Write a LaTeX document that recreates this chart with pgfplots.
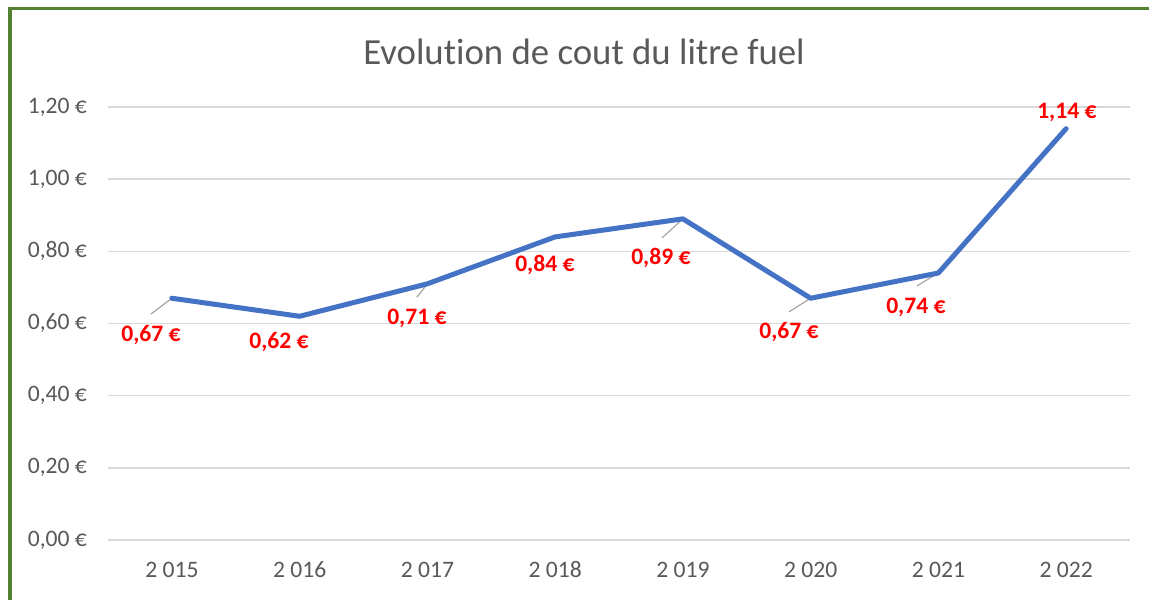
\documentclass[border=0pt]{standalone}
\usepackage{pgfplots}
\pgfplotsset{compat=1.18}
\usepackage{fontspec}
\setmainfont{Carlito}[Ligatures={NoCommon}]
\definecolor{lineblue}{HTML}{4472C4}
\definecolor{gridgray}{HTML}{D9D9D9}
\definecolor{txtgray}{HTML}{595959}
\definecolor{leadgray}{HTML}{A6A6A6}
\definecolor{labred}{HTML}{FF0000}
\definecolor{framegreen}{HTML}{548235}
\begin{document}
\begin{tikzpicture}
\useasboundingbox (0,0) rectangle (574.5pt,300pt);
\draw[framegreen, line width=1.7pt] (5pt,0) -- (5pt,295.8pt) -- (574.5pt,295.8pt);
\node[text=txtgray, font=\fontsize{18.4}{22}\selectfont] at (292pt,274pt) {Evolution de cout du litre fuel};
\begin{axis}[
  at={(54pt,30pt)}, anchor=south west, scale only axis,
  width=511pt, height=216.5pt,
  xmin=-0.5, xmax=7.5, ymin=0, ymax=1.2,
  xtick={0,1,2,3,4,5,6,7},
  xticklabels={2 015,2 016,2 017,2 018,2 019,2 020,2 021,2 022},
  ytick={0,0.2,0.4,0.6,0.8,1.0,1.2},
  yticklabels={{0,00 €},{0,20 €},{0,40 €},{0,60 €},{0,80 €},{1,00 €},{1,20 €}},
  axis line style={draw=none}, major tick length=0pt,
  ymajorgrids, grid style={color=gridgray, line width=0.75pt},
  tick label style={font=\fontsize{11.8}{14}\selectfont, text=txtgray},
  yticklabel style={xshift=-7pt},
  xticklabel style={yshift=-7.5pt, text height=7.6pt, text depth=0pt},
  clip=false,
]
% leader lines
\addplot[leadgray, line width=0.6pt] coordinates {(-0.164,0.626) (0,0.67)};
\addplot[leadgray, line width=0.6pt] coordinates {(1.918,0.673) (2,0.71)};
\addplot[leadgray, line width=0.6pt] coordinates {(3.836,0.837) (4,0.89)};
\addplot[leadgray, line width=0.6pt] coordinates {(4.83,0.632) (5,0.67)};
\addplot[leadgray, line width=0.6pt] coordinates {(5.832,0.704) (6,0.74)};
% series
\addplot[lineblue, line width=2.5pt, line join=round, line cap=round] coordinates {
  (0,0.67) (1,0.62) (2,0.71) (3,0.84) (4,0.89) (5,0.67) (6,0.74) (7,1.14)};
% data labels
\addplot[only marks, mark=*, mark size=0pt, mark options={draw=none, fill=none},
  nodes near coords, point meta=explicit symbolic,
  nodes near coords style={anchor=center, inner sep=0pt, text=labred,
    font=\bfseries\fontsize{11.8}{14}\selectfont}] coordinates {
  (-0.164,0.568) [0,67 €]
  (0.838,0.549) [0,62 €]
  (1.918,0.615) [0,71 €]
  (2.92,0.762) [0,84 €]
  (3.828,0.782) [0,89 €]
  (4.83,0.576) [0,67 €]
  (5.824,0.646) [0,74 €]
  (7.006,1.186) [1,14 €]};
\end{axis}
\end{tikzpicture}
\end{document}
